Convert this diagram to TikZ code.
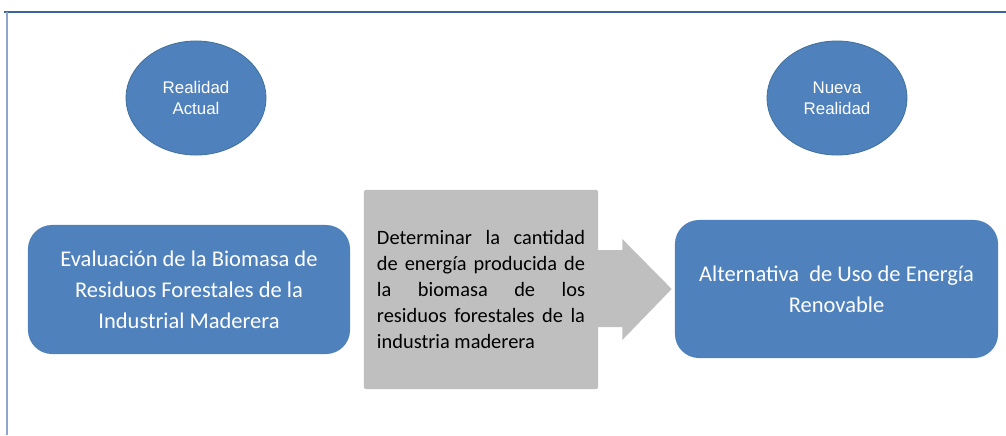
\documentclass[tikz,border=0pt]{standalone}
\usepackage{fontspec}
\setmainfont{Carlito}
\newfontfamily\ovalfont{Liberation Sans}
\usepackage{tikz}
\usetikzlibrary{shapes.geometric}

\definecolor{officeblue}{HTML}{4F81BD}
\definecolor{ovalborder}{HTML}{41719C}
\definecolor{boxgray}{HTML}{BFBFBF}
\definecolor{framedark}{HTML}{3C64A0}
\definecolor{framelight}{HTML}{8FA5CC}

\tikzset{
  oval/.style={ellipse, fill=officeblue, draw=ovalborder, line width=0.6pt,
    minimum width=3.5cm, minimum height=2.85cm, inner sep=0pt,
    text=white, align=center, font=\ovalfont\fontsize{12}{15}\selectfont},
  bluebox/.style={rectangle, rounded corners=0.6cm, fill=officeblue,
    text=white, align=center, inner sep=0pt,
    font=\fontsize{16}{22}\selectfont},
  graybox/.style={rectangle, fill=boxgray, rounded corners=1pt,
    minimum width=5.85cm, minimum height=4.975cm, inner sep=0pt,
    text width=5.2cm, align=justify, text=black,
    font=\fontsize{14.5}{18.4}\selectfont}
}

\begin{document}
\begin{tikzpicture}[x=0.025cm,y=-0.025cm]
            \useasboundingbox (0,0) rectangle (1006,435);

            % Draw frame
            \draw[framedark, line width=1.4pt] (4,12) -- (1006,12);
            \draw[framelight, line width=1.4pt] (7,12) -- (7,435);

            % Draw ovals
            \node[oval] (actual) at (196,98) {Realidad\\Actual};
            \node[oval] (nueva) at (837,98) {Nueva\\Realidad};

            % Draw boxes
            \node[bluebox, minimum width=8.05cm, minimum height=3.225cm] (evaluacion) at (189,289.5)
              {Evaluación de la Biomasa de\\Residuos Forestales de la\\Industrial Maderera};
            \node[graybox] (determinar) at (481,289.5)
              {\hyphenpenalty=10000 Determinar la cantidad\linebreak de energía producida de\linebreak
               la biomasa de los\linebreak residuos forestales de la\linebreak industria maderera};
            \node[bluebox, minimum width=8.075cm, minimum height=3.45cm] (alternativa) at (836.5,289)
              {Alternativa\ \ de Uso de Energía\\Renovable};

            % Draw arrow
            \fill[boxgray] ([shift={(-1,-39.5)}]determinar.east) -- ++(25,0) -- ++(0,-11)
              -- ([shift={(-3,0)}]alternativa.west) -- ([shift={(24,50.5)}]determinar.east)
              -- ++(0,-13) -- ++(-25,0) -- cycle;
\end{tikzpicture}
\end{document}
